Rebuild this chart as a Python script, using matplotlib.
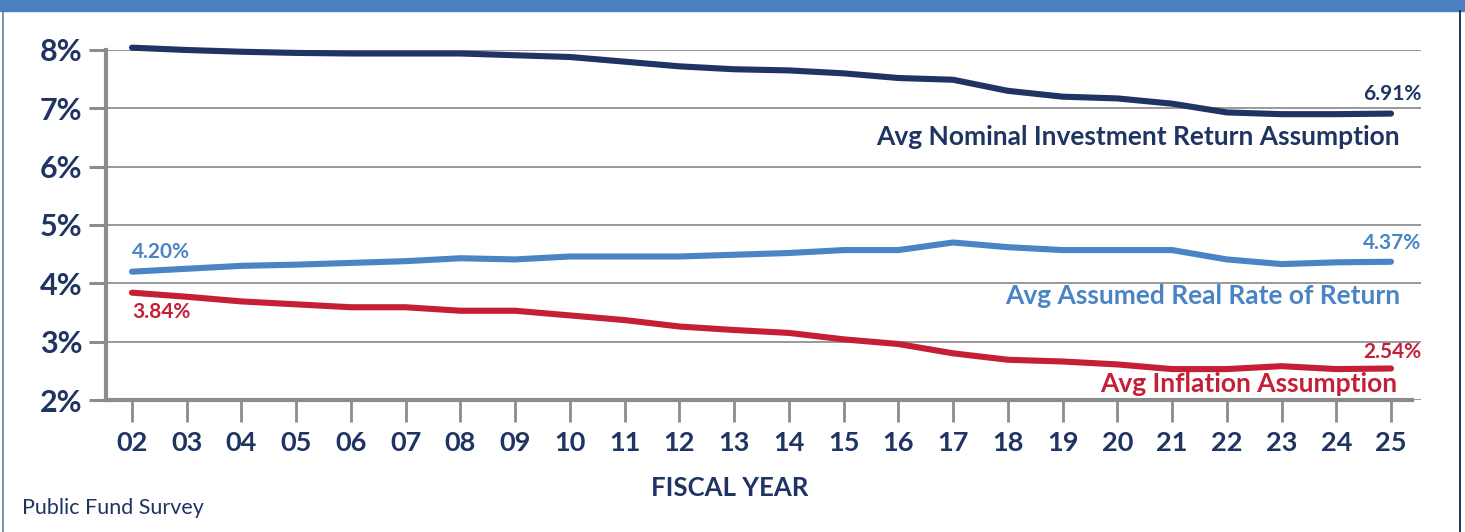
import numpy as np
import matplotlib
matplotlib.use("Agg")
import matplotlib.pyplot as plt
from matplotlib.lines import Line2D
from matplotlib.patches import Rectangle

plt.rcParams['font.family'] = ['Lato', 'DejaVu Sans']

# fiscal years 2002-2025
years = list(range(2, 26))
year_labels = ["%02d" % y for y in years]

nominal = [8.04, 8.00, 7.97, 7.95, 7.94, 7.94, 7.94, 7.91, 7.88, 7.80, 7.72, 7.67,
           7.65, 7.60, 7.52, 7.49, 7.30, 7.20, 7.17, 7.08, 6.93, 6.90, 6.90, 6.91]
real_rate = [4.20, 4.25, 4.30, 4.32, 4.35, 4.38, 4.43, 4.41, 4.46, 4.46, 4.46, 4.49,
             4.52, 4.57, 4.57, 4.70, 4.62, 4.57, 4.57, 4.57, 4.41, 4.33, 4.36, 4.37]
inflation = [3.84, 3.77, 3.69, 3.64, 3.59, 3.59, 3.53, 3.53, 3.45, 3.37, 3.26, 3.20,
             3.15, 3.04, 2.96, 2.80, 2.69, 2.66, 2.61, 2.53, 2.53, 2.58, 2.53, 2.54]

y_ticks = [2, 3, 4, 5, 6, 7, 8]
y_labels = ["%d%%" % t for t in y_ticks]

NAVY = "#1f3462"
BLUE = "#4a84c5"
RED = "#c51f38"
GRAY = "#999999"

W, H = 1465, 532
fig = plt.figure(figsize=(W / 100, H / 100), dpi=100)

# frame: blue band on top, thin borders on the sides
fig.patches.append(Rectangle((0, 1 - 11 / H), 1, 11 / H, transform=fig.transFigure,
                             color="#4a7fc0", zorder=0))
fig.lines.append(Line2D([3 / W, 3 / W], [0, 1 - 11 / H], transform=fig.transFigure,
                        color="#6b7aa0", lw=1.2))
fig.lines.append(Line2D([1460 / W, 1460 / W], [0, 1 - 11 / H], transform=fig.transFigure,
                        color=NAVY, lw=1.4))

ax = fig.add_axes([106 / W, (H - 400) / H, (1421 - 106) / W, 350 / H])
ax.set_ylim(2, 8)
ax.set_xlim(2 - 26 / 54.74, 25 + 30 / 54.74)

for vals, c in [(nominal, NAVY), (real_rate, BLUE), (inflation, RED)]:
    ax.plot(years, vals, color=c, lw=4.4, solid_capstyle='round', solid_joinstyle='round',
            zorder=3, clip_on=False)

ax.set_yticks(y_ticks)
ax.set_yticklabels(y_labels)
ax.set_xticks(years)
ax.set_xticklabels(year_labels)
ax.grid(axis='y', color=GRAY, lw=1.4)
ax.set_axisbelow(True)

for s in ['top', 'right']:
    ax.spines[s].set_visible(False)
ax.spines['left'].set_color("#8c8c8c")
ax.spines['left'].set_linewidth(3)
ax.spines['bottom'].set_color("#8c8c8c")
ax.spines['bottom'].set_linewidth(3)
ax.spines['bottom'].set_bounds(ax.get_xlim()[0], 25 + 21 / 54.74)

ax.tick_params(axis='y', length=12.2, width=2.2, color="#8c8c8c", pad=5,
               labelsize=22, labelcolor=NAVY)
ax.tick_params(axis='x', length=16, width=2, color="#8c8c8c", pad=6,
               labelsize=19.5, labelcolor=NAVY)
for lab in ax.get_yticklabels() + ax.get_xticklabels():
    lab.set_fontweight('bold')


def note(x, y, txt, dx, dy, c, ha, size=15):
    # offsets given in pixels (dpi 100)
    ax.annotate(txt, (x, y), xytext=(dx * 0.72, dy * 0.72), textcoords='offset points',
                ha=ha, va='center', color=c, fontsize=size, fontweight='bold')


note(years[0], nominal[0], "%.2f%%" % nominal[0], 0, -21, NAVY, 'left')
note(years[-1], nominal[-1], "%.2f%%" % nominal[-1], 30, 20, NAVY, 'right')
note(years[-1], nominal[-1], "Avg Nominal Investment Return Assumption", 9, -23, NAVY, 'right', 19)

note(years[0], real_rate[0], "%.2f%%" % real_rate[0], 0, 20, BLUE, 'left')
note(years[-1], real_rate[-1], "%.2f%%" % real_rate[-1], 30, 19, BLUE, 'right')
note(years[-1], real_rate[-1], "Avg Assumed Real Rate of Return", 9, -34, BLUE, 'right', 19)

note(years[0], inflation[0], "%.2f%%" % inflation[0], 0, -19, RED, 'left')
note(years[-1], inflation[-1], "%.2f%%" % inflation[-1], 30, 16, RED, 'right')
note(years[-1], inflation[-1], "Avg Inflation Assumption", 6, -15, RED, 'right', 19)

fig.text(730 / W, 1 - 488 / H, "FISCAL YEAR", ha='center', va='center',
         fontsize=18.5, fontweight='bold', color=NAVY)
fig.text(22 / W, 1 - 508 / H, "Public Fund Survey", ha='left', va='center',
         fontsize=15.5, color=NAVY)

fig.savefig("out.png", dpi=100)
